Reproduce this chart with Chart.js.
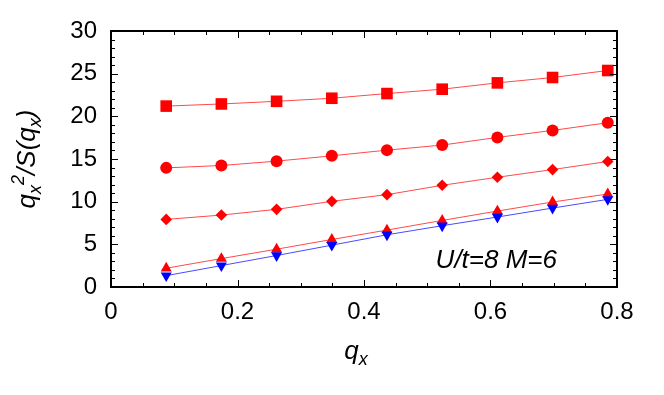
<!DOCTYPE html>
<html>
<head>
<meta charset="utf-8">
<script src="https://cdn.jsdelivr.net/npm/chart.js@4/dist/chart.umd.min.js"></script>
<style>
html,body{margin:0;padding:0;background:#fff;}
#wrap{width:664px;height:395px;position:relative;}
</style>
</head>
<body>
<div id="wrap"><canvas id="c" width="664" height="395"></canvas></div>
<script>
// ---- data ----
const qx = [0.0873, 0.1745, 0.2618, 0.3491, 0.4363, 0.5236, 0.6109, 0.6981, 0.7854];
const seriesSquare  = [21.2, 21.45, 21.76, 22.12, 22.67, 23.18, 23.92, 24.55, 25.37];
const seriesCircle  = [13.96, 14.24, 14.75, 15.37, 16.04, 16.63, 17.53, 18.35, 19.25];
const seriesDiamond = [7.92, 8.43, 9.10, 10.04, 10.82, 11.92, 12.86, 13.76, 14.71];
const seriesUpTri   = [2.20, 3.33, 4.43, 5.57, 6.67, 7.80, 8.90, 9.96, 10.90];
const seriesDownTri = [1.33, 2.51, 3.69, 4.90, 6.12, 7.18, 8.20, 9.25, 10.27];
const xTickValues = [0, 0.2, 0.4, 0.6, 0.8];
const yTickValues = [0, 5, 10, 15, 20, 25, 30];
const xMinorStep = 0.05;
const yMinorStep = 1;
const annotationText = 'U/t=8 M=6';

const pts = ys => qx.map((x, i) => ({x: x, y: ys[i]}));

const RED = '#ff0000', REDLINE = '#ff4a4a', BLUE = '#0000ff', BLUELINE = '#4a4aff';
const FONT = '"Liberation Sans", Arial, Helvetica, sans-serif';

function ds(data, style, r, color, lineColor, rot) {
  return {
    data: pts(data), showLine: true, borderColor: lineColor, borderWidth: 1,
    pointStyle: style, pointRadius: r, pointHoverRadius: r, pointRotation: rot || 0,
    pointBackgroundColor: color, pointBorderColor: color, pointBorderWidth: 0,
    tension: 0
  };
}

function drawRich(ctx, parts, size, cx, baseY) {
  const sub = Math.round(size * 0.7);
  let w = 0;
  const items = parts.map(p => {
    const fs = (p.sub || p.sup) ? sub : size;
    ctx.font = 'italic ' + fs + 'px ' + FONT;
    const mw = ctx.measureText(p.t).width;
    const it = {t: p.t, fs: fs, w: mw, dy: p.sub ? size * 0.22 : (p.sup ? -size * 0.42 : 0)};
    w += mw;
    return it;
  });
  let x = cx - w / 2;
  ctx.textBaseline = 'alphabetic';
  ctx.textAlign = 'left';
  items.forEach(it => {
    ctx.font = 'italic ' + it.fs + 'px ' + FONT;
    ctx.fillText(it.t, x, baseY + it.dy);
    x += it.w;
  });
}

const framePlugin = {
  id: 'frame',
  afterDraw(chart) {
    const ctx = chart.ctx, a = chart.chartArea;
    const xs = chart.scales.x, ys = chart.scales.y;
    ctx.save();
    ctx.strokeStyle = '#000';
    ctx.lineWidth = 1;
    const xmin = xs.min, xmax = xs.max, ymin = ys.min, ymax = ys.max;
    for (let v = xmin; v <= xmax + 1e-9; v += xMinorStep) {
      const major = xTickValues.some(t => Math.abs(t - v) < 1e-6);
      const L = major ? 7 : 4;
      const px = Math.round(xs.getPixelForValue(v)) + 0.5;
      ctx.beginPath();
      ctx.moveTo(px, a.bottom); ctx.lineTo(px, a.bottom - L);
      ctx.moveTo(px, a.top); ctx.lineTo(px, a.top + L);
      ctx.stroke();
    }
    for (let v = ymin; v <= ymax + 1e-9; v += yMinorStep) {
      const major = yTickValues.some(t => Math.abs(t - v) < 1e-6);
      const L = major ? 7 : 4;
      const py = Math.round(ys.getPixelForValue(v)) + 0.5;
      ctx.beginPath();
      ctx.moveTo(a.left, py); ctx.lineTo(a.left + L, py);
      ctx.moveTo(a.right, py); ctx.lineTo(a.right - L, py);
      ctx.stroke();
    }
    ctx.lineWidth = 2;
    ctx.strokeRect(a.left, a.top, a.right - a.left, a.bottom - a.top);

    ctx.fillStyle = '#000';
    ctx.font = 'italic 26px ' + FONT;
    ctx.textAlign = 'right';
    ctx.textBaseline = 'alphabetic';
    ctx.fillText(annotationText, a.right - 60, a.bottom - 19);

    drawRich(ctx, [{t: 'q'}, {t: 'x', sub: true}], 26, (a.left + a.right) / 2 - 8, 359);

    ctx.save();
    ctx.translate(35, (a.top + a.bottom) / 2);
    ctx.rotate(-Math.PI / 2);
    drawRich(ctx, [{t: 'q'}, {t: 'x', sub: true}, {t: '2', sup: true}, {t: '/S(q'}, {t: 'x', sub: true}, {t: ')'}], 26, 0, 0);
    ctx.restore();
    ctx.restore();
  }
};

new Chart(document.getElementById('c'), {
  type: 'scatter',
  data: {
    datasets: [
      ds(seriesSquare, 'rect', 8.2, RED, REDLINE),
      ds(seriesCircle, 'circle', 6, RED, REDLINE),
      ds(seriesDiamond, 'rectRot', 5.8, RED, REDLINE),
      ds(seriesDownTri, 'triangle', 6.4, BLUE, BLUELINE, 180),
      ds(seriesUpTri, 'triangle', 6.4, RED, REDLINE)
    ]
  },
  options: {
    responsive: false,
    animation: false,
    devicePixelRatio: 1,
    layout: {padding: {left: 0, top: 31, right: 47, bottom: 0}},
    plugins: {legend: {display: false}, tooltip: {enabled: false}},
    scales: {
      x: {
        type: 'linear', min: 0, max: 0.8,
        afterFit(s) { s.height = 108; },
        afterBuildTicks(s) { s.ticks = xTickValues.map(v => ({value: v})); },
        grid: {display: false, drawTicks: false},
        border: {display: false},
        ticks: {
          color: '#000', padding: 11,
          font: {family: FONT, size: 24},
          callback: v => (v === 0 ? '0' : v.toFixed(1)),
          maxRotation: 0
        }
      },
      y: {
        type: 'linear', min: 0, max: 30,
        afterFit(s) { s.width = 111; },
        afterBuildTicks(s) { s.ticks = yTickValues.map(v => ({value: v})); },
        grid: {display: false, drawTicks: false},
        border: {display: false},
        ticks: {
          color: '#000', padding: 14,
          font: {family: FONT, size: 24},
          callback: v => String(v)
        }
      }
    }
  },
  plugins: [framePlugin]
});
</script>
</body>
</html>
